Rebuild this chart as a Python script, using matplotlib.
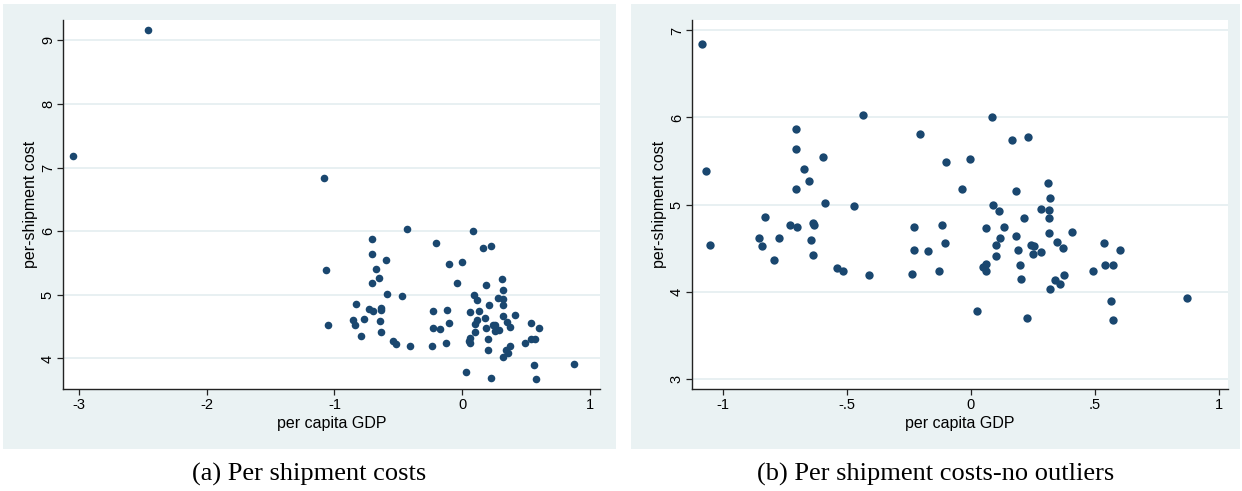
import matplotlib
matplotlib.use("Agg")
import matplotlib.pyplot as plt
from matplotlib.patches import Rectangle

# ---- data (per capita GDP, per-shipment cost) ----
gdp = [-1.085, -1.067, -1.053, -0.854, -0.841, -0.829, -0.795, -0.772, -0.731, -0.700,
       -0.705, -0.704, -0.707, -0.673, -0.651, -0.643, -0.635, -0.633, -0.636, -0.596,
       -0.588, -0.540, -0.514, -0.470, -0.434, -0.409, -0.236, -0.229, -0.228, -0.205,
       -0.173, -0.127, -0.117, -0.103, -0.101, -0.037, -0.003, 0.027, 0.051, 0.061,
       0.0625, 0.0625, 0.085, 0.090, 0.101, 0.103, 0.114, 0.117, 0.135, 0.165,
       0.181, 0.184, 0.189, 0.200, 0.204, 0.213, 0.226, 0.229, 0.244, 0.255,
       0.253, 0.282, 0.285, 0.3125, 0.316, 0.316, 0.317, 0.319, 0.3205, 0.341,
       0.349, 0.359, 0.372, 0.375, 0.410, 0.492, 0.538, 0.542, 0.564, 0.572,
       0.574, 0.604, 0.873]
cost = [6.84, 5.39, 4.53, 4.61, 4.525, 4.86, 4.36, 4.62, 4.77, 4.74,
        5.87, 5.64, 5.18, 5.41, 5.27, 4.59, 4.79, 4.765, 4.42, 5.55,
        5.02, 4.27, 4.235, 4.98, 6.03, 4.19, 4.20, 4.48, 4.74, 5.81,
        4.47, 4.24, 4.76, 4.56, 5.49, 5.18, 5.52, 3.78, 4.28, 4.32,
        4.24, 4.73, 6.00, 5.00, 4.41, 4.54, 4.92, 4.61, 4.74, 5.74,
        4.64, 5.16, 4.48, 4.31, 4.14, 4.845, 3.70, 5.77, 4.53, 4.525,
        4.43, 4.95, 4.45, 5.25, 4.94, 4.845, 4.67, 5.08, 4.03, 4.13,
        4.57, 4.09, 4.495, 4.19, 4.68, 4.24, 4.56, 4.31, 3.89, 4.31,
        3.67, 4.48, 3.92]
outlier_gdp = [-3.043, -2.455]
outlier_cost = [7.18, 9.165]

left_xticks = [-3, -2, -1, 0, 1]
left_xticklabels = ["-3", "-2", "-1", "0", "1"]
left_yticks = [4, 5, 6, 7, 8, 9]
right_xticks = [-1, -0.5, 0, 0.5, 1]
right_xticklabels = ["-1", "-.5", "0", ".5", "1"]
right_yticks = [3, 4, 5, 6, 7]

captions = ["(a) Per shipment costs", "(b) Per shipment costs-no outliers"]
xlabel = "per capita GDP"
ylabel = "per-shipment cost"

# ---- style ----
W, H = 1242, 491
navy = "#1a476f"
bg = "#eaf2f3"
grid = "#e6eff1"
sans = ["Liberation Sans", "DejaVu Sans"]
serif = ["Liberation Serif", "DejaVu Serif"]

fig = plt.figure(figsize=(W / 100, H / 100), dpi=100)
fig.patch.set_facecolor("white")

def fx(px):
    return px / W

def fy(py):
    return 1 - py / H

# gray graph regions
for x0, x1 in [(3, 616), (631, 1240)]:
    fig.patches.append(Rectangle((fx(x0), fy(449)), fx(x1) - fx(x0), fy(4) - fy(449),
                                 transform=fig.transFigure, facecolor=bg,
                                 edgecolor="none", zorder=-5))

def make_ax(x0, x1):
    ax = fig.add_axes([fx(x0), fy(389), fx(x1) - fx(x0), fy(20) - fy(389)])
    ax.set_zorder(2)
    ax.set_facecolor("white")
    for s in ["top", "right"]:
        ax.spines[s].set_visible(False)
    for s in ["left", "bottom"]:
        ax.spines[s].set_color("#222222")
        ax.spines[s].set_linewidth(1.0)
    ax.tick_params(direction="out", length=4.3, width=0.9, color="#222222",
                   labelsize=10.5)
    ax.tick_params(axis="x", pad=2.5)
    ax.tick_params(axis="y", pad=1.5)
    ax.grid(axis="y", color=grid, linewidth=1.3, zorder=0)
    ax.set_axisbelow(True)
    return ax

# left panel: all data
axL = make_ax(63, 600)
axL.scatter(gdp + outlier_gdp, cost + outlier_cost, s=30, color=navy,
            linewidths=0, zorder=3)
axL.set_xlim(-3.123, 1.078)
axL.set_ylim(3.52, 9.32)
axL.set_xticks(left_xticks)
axL.set_xticklabels(left_xticklabels, family=sans)
axL.set_yticks(left_yticks)
axL.set_yticklabels([str(v) for v in left_yticks], family=sans, rotation=90,
                    va="center")

# right panel: no outliers
axR = make_ax(692, 1228)
axR.scatter(gdp, cost, s=36, color=navy, linewidths=0, zorder=3)
axR.set_xlim(-1.125, 1.038)
axR.set_ylim(2.88, 7.12)
axR.set_xticks(right_xticks)
axR.set_xticklabels(right_xticklabels, family=sans)
axR.set_yticks(right_yticks)
axR.set_yticklabels([str(v) for v in right_yticks], family=sans, rotation=90,
                    va="center")

for ax in (axL, axR):
    ax.set_xlabel(xlabel, family=sans, fontsize=11.5)
    ax.xaxis.set_label_coords(0.5, -(416 - 389) / 369)
    ax.set_ylabel(ylabel, family=sans, fontsize=11.5)

axL.yaxis.set_label_coords(-(63 - 38.5) / 537, 0.5)
axR.yaxis.set_label_coords(-(692 - 667) / 536, 0.5)

fig.text(fx(309.5), fy(474), captions[0], family=serif, fontsize=19,
         ha="center", va="center")
fig.text(fx(935.5), fy(474), captions[1], family=serif, fontsize=19,
         ha="center", va="center")

fig.savefig("out.png", dpi=100, facecolor="white")
